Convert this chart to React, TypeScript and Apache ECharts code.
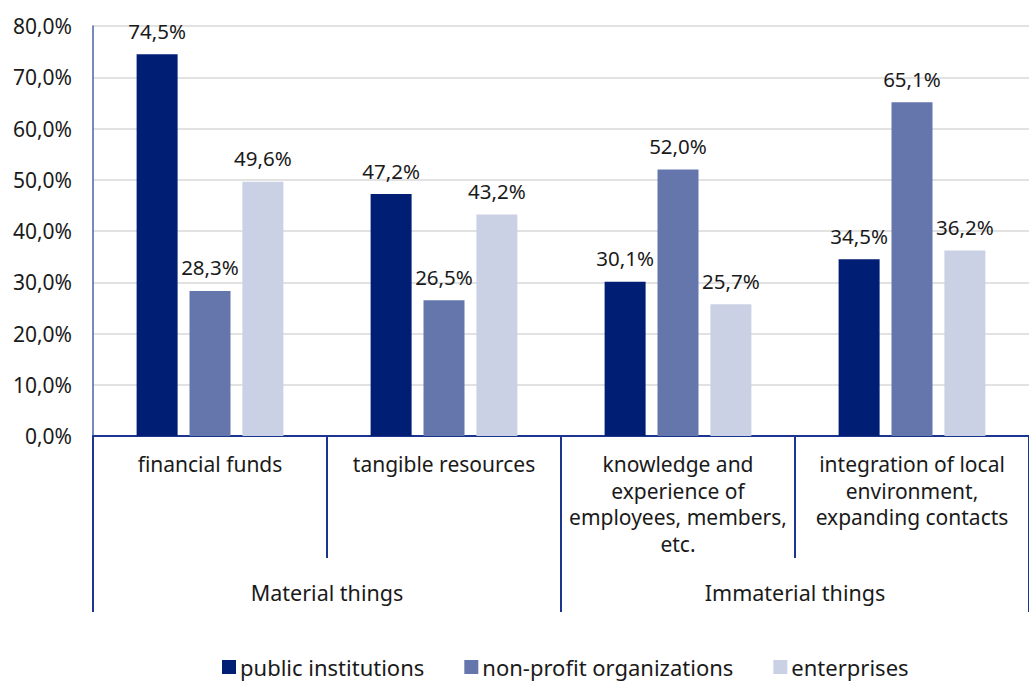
import React, { useEffect, useRef } from "react";
import * as echarts from "echarts";

const categories = [
  "financial funds",
  "tangible resources",
  "knowledge and\nexperience of\nemployees, members,\netc.",
  "integration of local\nenvironment,\nexpanding contacts",
];
const groups = ["Material things", "Immaterial things"];
const seriesNames = ["public institutions", "non-profit organizations", "enterprises"];
const publicInstitutions = [74.5, 47.2, 30.1, 34.5];
const nonProfit = [28.3, 26.5, 52.0, 65.1];
const enterprises = [49.6, 43.2, 25.7, 36.2];
const colors = ["#001E73", "#6576AD", "#CBD1E4"];

const FONT = "Noto Sans";
const fmt = (v: number) => v.toFixed(1).replace(".", ",") + "%";

export default function App() {
  const ref = useRef<HTMLDivElement>(null);
  useEffect(() => {
    document.body.style.margin = "0";
    const chart = echarts.init(ref.current!, null, { renderer: "svg" });
    const data = [publicInstitutions, nonProfit, enterprises];
    chart.setOption({
      animation: false,
      textStyle: { fontFamily: FONT },
      grid: { left: 93, right: 0, top: 26, bottom: 246, containLabel: false },
      legend: {
        bottom: 4,
        left: 222,
        padding: 0,
        itemWidth: 14,
        itemHeight: 14,
        itemGap: 40,
        icon: "rect",
        textStyle: { fontFamily: FONT, fontSize: 22, color: "#1a1a1a", padding: [0, 0, 0, -1] },
        data: seriesNames,
      },
      xAxis: [
        {
          type: "category",
          data: categories,
          position: "bottom",
          axisLine: { show: true, lineStyle: { color: "#1A3490", width: 2 } },
          axisTick: { show: true, length: 122, lineStyle: { color: "#1A3490", width: 2 } },
          axisLabel: {
            interval: 0,
            margin: 15,
            fontFamily: FONT,
            fontSize: 21,
            lineHeight: 26.5,
            color: "#1a1a1a",
          },
        },
        {
          type: "category",
          data: groups,
          position: "bottom",
          axisLine: { show: false },
          axisTick: { show: true, length: 176, lineStyle: { color: "#1A3490", width: 2 } },
          axisLabel: {
            interval: 0,
            margin: 145,
            fontFamily: FONT,
            fontSize: 21.5,
            color: "#1a1a1a",
          },
        },
      ],
      yAxis: {
        type: "value",
        min: 0,
        max: 80,
        interval: 10,
        axisLine: { show: true, lineStyle: { color: "#4A63A8", width: 1.5 } },
        axisTick: { show: false },
        splitLine: { lineStyle: { color: "#D9D9D9", width: 1.5 } },
        axisLabel: {
          formatter: (v: number) => fmt(v),
          margin: 21,
          fontFamily: FONT,
          fontSize: 21,
          color: "#1a1a1a",
        },
      },
      series: seriesNames.map((name, i) => ({
        name,
        type: "bar",
        xAxisIndex: 0,
        data: data[i],
        barWidth: 41,
        barGap: "29%",
        itemStyle: { color: colors[i] },
        label: {
          show: true,
          position: "top",
          distance: 13,
          fontFamily: FONT,
          fontSize: 20.5,
          color: "#1a1a1a",
          formatter: (p: any) => fmt(p.value),
        },
      })),
    });
    return () => chart.dispose();
  }, []);
  return <div ref={ref} style={{ width: 1029, height: 682 }} />;
}
